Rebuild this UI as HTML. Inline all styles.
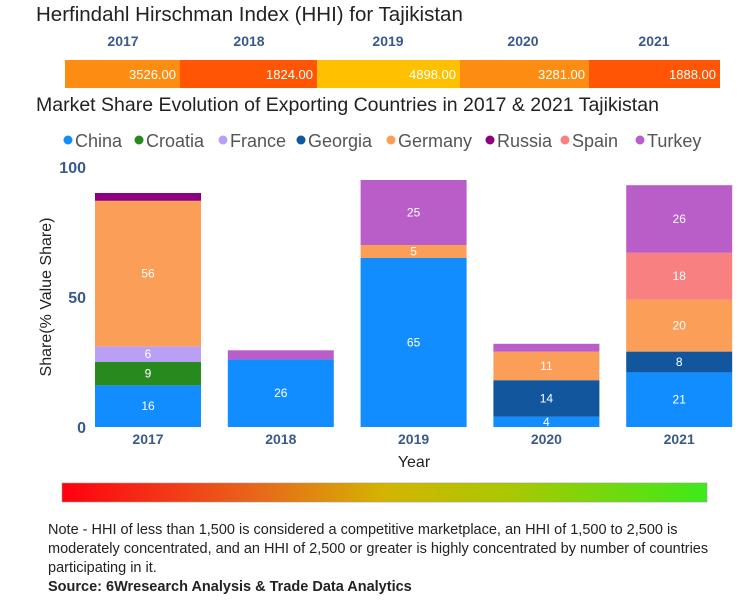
<!DOCTYPE html>
<html><head><meta charset="utf-8"><style>
body{margin:0;background:#fff;width:740px;height:600px;overflow:hidden;font-family:"Liberation Sans",sans-serif;}
svg text{font-family:"Liberation Sans",sans-serif;}
</style></head><body>
<svg id="c" width="740" height="600">
<text x="36" y="21" font-size="20.5" fill="#222">Herfindahl Hirschman Index (HHI) for Tajikistan</text>
<g id="hhi"></g>
<text x="36" y="111" font-size="19.5" fill="#222">Market Share Evolution of Exporting Countries in 2017 &amp; 2021 Tajikistan</text>
<g id="legend"></g>
<g id="plot"></g>
<text transform="translate(51,297) rotate(-90)" text-anchor="middle" font-size="16" fill="#222">Share(% Value Share)</text>
<text x="414" y="467" text-anchor="middle" font-size="16" fill="#222">Year</text>
<defs><linearGradient id="g" x1="0" x2="1">
<stop offset="0" stop-color="#ff0010"/><stop offset="0.3" stop-color="#e8661a"/><stop offset="0.5" stop-color="#d4b400"/><stop offset="0.7" stop-color="#a8c800"/><stop offset="1" stop-color="#3dea1a"/></linearGradient></defs>
<rect x="62" y="483" width="645" height="19" fill="url(#g)" stroke="#999" stroke-width="0.6"/>
<g font-size="14.5" fill="#222">
<text x="48" y="534">Note - HHI of less than 1,500 is considered a competitive marketplace, an HHI of 1,500 to 2,500 is</text>
<text x="48" y="553">moderately concentrated, and an HHI of 2,500 or greater is highly concentrated by number of countries</text>
<text x="48" y="572">participating in it.</text>
<text x="48" y="591" font-weight="bold">Source: 6Wresearch Analysis &amp; Trade Data Analytics</text>
</g>
</svg>
<script>
const years=["2017","2018","2019","2020","2021"];
const hhiValues=[3526,1824,4898,3281,1888];
const countries=["China","Croatia","France","Georgia","Germany","Russia","Spain","Turkey"];
const colors=["#118dff","#268a1f","#b9a0f5","#12569e","#fa9e58","#8c0080","#f88080","#b95ec8"];
const China=[16,26,65,4,21];
const Croatia=[9,0,0,0,0];
const France=[6,0,0,0,0];
const Georgia=[0,0,0,14,8];
const Germany=[56,0,5,11,20];
const Russia=[3,0,0,0,0];
const Spain=[0,0,0,0,18];
const Turkey=[0,3.5,25,3,26];
const series=[China,Croatia,France,Georgia,Germany,Russia,Spain,Turkey];
const yTicks=[0,50,100];
const NS="http://www.w3.org/2000/svg";
function mk(t,a,p){const e=document.createElementNS(NS,t);for(const k in a)e.setAttribute(k,a[k]);p.appendChild(e);return e;}
const hhi=document.getElementById('hhi');
const hBounds=[65,180,317,460,589,720];
function hhiColor(v){return v>=4500?"#ffc000":v>=3000?"#fd8c12":"#ff5505";}
years.forEach((y,i)=>{
 const x0=hBounds[i],x1=hBounds[i+1];
 const r=mk('rect',{x:x0,y:60,width:x1-x0,height:28,fill:hhiColor(hhiValues[i])},hhi);
 
 
 const h=mk('text',{x:[123,249,388,523,654][i],y:46,'text-anchor':'middle','font-size':14,'font-weight':'bold',fill:'#3a5a8c'},hhi);h.textContent=y;
 
 
 const t=mk('text',{x:x1-4,y:79,'text-anchor':'end','font-size':13,fill:'#fff'},hhi);t.textContent=hhiValues[i].toFixed(2);
 
 
});
const lg=document.getElementById('legend');
const lx=[64,135,219,297,387,486,561,636];
countries.forEach((c,i)=>{
 const g=mk('g',{},lg);
 
 
 mk('circle',{cx:lx[i]+4,cy:140,r:4.5,fill:colors[i]},g);
 const t=mk('text',{x:lx[i]+11,y:147,'font-size':18,fill:'#555'},g);t.textContent=c;
});
const plot=document.getElementById('plot');
const y0=427,yTop=167;
function yS(v){return y0-(v/100)*(y0-yTop);}
function xS(i){return 95+i*132.8;}
const bw=106;
yTicks.forEach(v=>{
 const t=mk('text',{x:86,y:yS(v)+6,'text-anchor':'end','font-size':16,'font-weight':'bold',fill:'#3a5a8c'},plot);t.textContent=v;
 
 
});
years.forEach((y,i)=>{
 let acc=0;
 series.forEach((s,k)=>{
  const v=s[i];if(!v)return;
  const top=yS(acc+v),bot=yS(acc);
  const r=mk('rect',{x:xS(i),y:top,width:bw,height:bot-top,fill:colors[k]},plot);
  
  
  if(v>=4){const t=mk('text',{x:xS(i)+bw/2,y:(top+bot)/2+4,'text-anchor':'middle','font-size':12,fill:'#fff'},plot);t.textContent=Math.round(v);
   
   }
  acc+=v;
 });
 const t=mk('text',{x:xS(i)+bw/2,y:444,'text-anchor':'middle','font-size':14,'font-weight':'bold',fill:'#3a5a8c'},plot);t.textContent=y;
 
 
});
</script>
</body></html>
